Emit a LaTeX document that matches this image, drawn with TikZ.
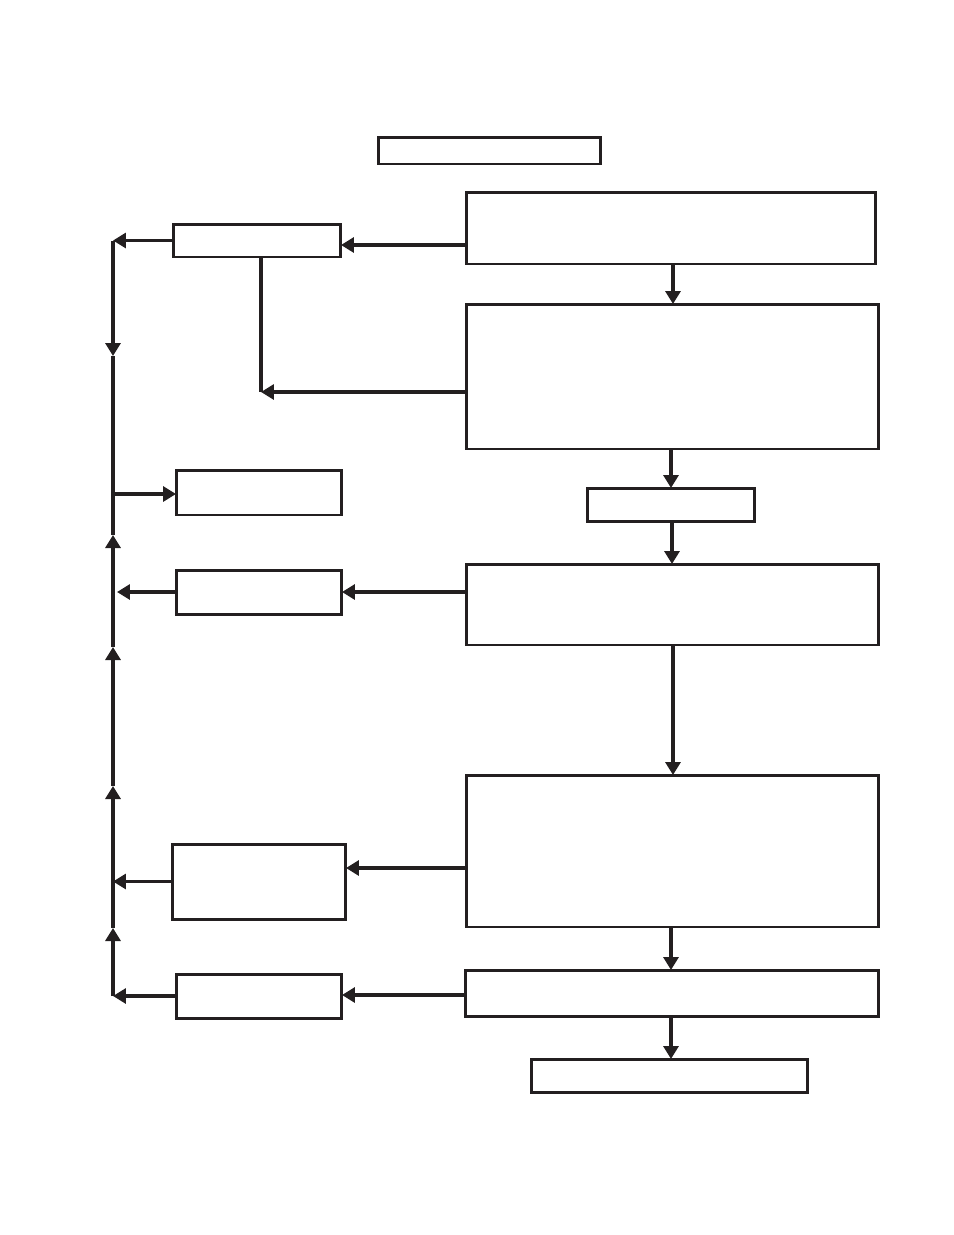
\documentclass[tikz,border=0pt]{standalone}
\usepackage{tikz}
\usetikzlibrary{arrows.meta}
\definecolor{FlowInk}{HTML}{231F20}

\begin{document}
\begin{tikzpicture}[x=0.02cm, y=-0.02cm,
    box/.style={draw=FlowInk, line width=1.7pt, inner sep=0pt, outer sep=0pt},
    link/.style={draw=FlowInk, line width=1.8pt},
    arr/.style={link, -{Triangle[length=0.26cm, width=0.3cm]}}]
  \useasboundingbox (0,0) rectangle (954,1235);
  % right column
  \node[box, minimum width=4.46cm, minimum height=0.54cm] (top) at (489.5,150.5) {};
  \node[box, minimum width=8.2cm,  minimum height=1.44cm] (r1) at (671,228) {};
  \node[box, minimum width=8.26cm, minimum height=2.9cm]  (r2) at (672.5,376.5) {};
  \node[box, minimum width=3.36cm, minimum height=0.66cm] (mid) at (671,504.5) {};
  \node[box, minimum width=8.26cm, minimum height=1.62cm] (r3) at (672.5,604.5) {};
  \node[box, minimum width=8.26cm, minimum height=3.04cm] (r4) at (672.5,851) {};
  \node[box, minimum width=8.28cm, minimum height=0.92cm] (r5) at (672,993) {};
  \node[box, minimum width=5.54cm, minimum height=0.66cm] (fin) at (669.5,1075.5) {};
  % left column
  \node[box, minimum width=3.36cm, minimum height=0.66cm] (l1) at (257,240.5) {};
  \node[box, minimum width=3.32cm, minimum height=0.9cm]  (l2) at (259,492.5) {};
  \node[box, minimum width=3.32cm, minimum height=0.88cm] (l3) at (259,592) {};
  \node[box, minimum width=3.48cm, minimum height=1.5cm]  (l4) at (259,881.5) {};
  \node[box, minimum width=3.32cm, minimum height=0.88cm] (l5) at (259,996) {};
  % main flow
  \draw[arr] (r1.south -| 673,0) -- (r2.north -| 673,0);
  \draw[arr] (mid.north |- r2.south) -- (mid.north);
  \draw[arr] (mid.south -| 672,0) -- (r3.north -| 672,0);
  \draw[arr] (r3.south -| 673,0) -- (r4.north -| 673,0);
  \draw[arr] (r4.south -| 671,0) -- (r5.north -| 671,0);
  \draw[arr] (r5.south -| 671,0) -- (fin.north -| 671,0);
  % side branches
  \coordinate (a1) at (466,245);
  \coordinate (jn) at (261,392);
  \coordinate (a3) at (466,592);
  \coordinate (a4) at (466,868);
  \coordinate (a5) at (466,995);
  \draw[arr] (a1) -- (a1 -| l1.east);
  \draw[link] (jn |- l1.south) -- (jn);
  \draw[arr] (r2.west |- jn) -- (jn);
  \draw[arr] (a3) -- (a3 -| l3.east);
  \draw[arr] (a4) -- (a4 -| l4.east);
  \draw[arr] (a5) -- (a5 -| l5.east);
  % bus on the left
  \coordinate (b1) at (113,240.5);
  \coordinate (bd) at (113,356);
  \coordinate (b2) at (113,494);
  \coordinate (u1) at (113,535);
  \coordinate (u2) at (113,647);
  \coordinate (u3) at (113,786);
  \coordinate (u4) at (113,928);
  \coordinate (b5) at (113,996);
  \draw[arr] (l1.west) -- (b1);
  \draw[arr] (b1) -- (bd);
  \draw[link] (bd) -- (u1);
  \draw[arr] (b2) -- (b2 -| l2.west);
  \draw[arr] (l3.west) -- (l3.west -| 117,0);
  \draw[arr] (l4.west) -- (l4.west -| b1);
  \draw[arr] (l5.west) -- (b5);
  \draw[arr] (b5) -- (u4);
  \draw[arr] (u4) -- (u3);
  \draw[arr] (u3) -- (u2);
  \draw[arr] (u2) -- (u1);
\end{tikzpicture}
\end{document}
